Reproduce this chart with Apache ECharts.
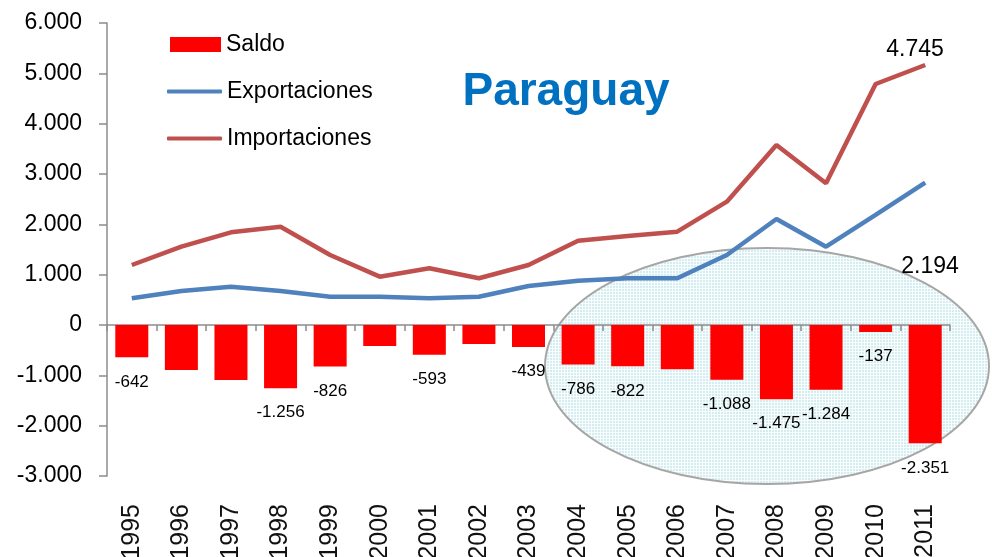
<!DOCTYPE html>
<html>
<head>
<meta charset="utf-8">
<script src="https://cdn.jsdelivr.net/npm/echarts@6/dist/echarts.min.js"></script>
<style>
    html, body { margin: 0; padding: 0; background: #fff; }
    #main { width: 992px; height: 557px; }
</style>
</head>
<body>
<div id="main"></div>
<script>
;(function () {
    var years = ['1995', '1996', '1997', '1998', '1999', '2000', '2001', '2002', '2003',
        '2004', '2005', '2006', '2007', '2008', '2009', '2010', '2011']
    var saldo = [-642, -895, -1093, -1256, -826, -418, -593, -378, -439,
        -786, -822, -881, -1088, -1475, -1284, -137, -2351]
    // solo algunas barras llevan etiqueta
    var saldoLabels = ['-642', '', '', '-1.256', '-826', '', '-593', '', '-439',
        '-786', '-822', '', '-1.088', '-1.475', '-1.284', '-137', '-2.351']
    var exportaciones = [530, 676, 761, 676, 562, 562, 530, 562, 775,
        880, 928, 928, 1391, 2106, 1556, 2186, 2828]
    var importaciones = [1192, 1556, 1842, 1953, 1391, 960, 1127, 928, 1192,
        1675, 1768, 1854, 2450, 3576, 2815, 4788, 5166]
    var endNotes = ['4.745', '2.194']

    var fontName = '"Liberation Sans", Arial, sans-serif'

    function miles(v) {
        var neg = v < 0
        var s = String(Math.abs(v)).replace(/\B(?=(\d{3})+(?!\d))/g, '.')
        return (neg ? '-' : '') + s
    }

    // trama del ovalo
    var tile = document.createElement('canvas')
    tile.width = 3
    tile.height = 3
    var ctx = tile.getContext('2d')
    ctx.fillStyle = '#d5edf0'
    ctx.fillRect(0, 0, 3, 3)
    ctx.fillStyle = 'rgba(255,255,255,0.8)'
    ctx.fillRect(0, 0, 3, 1)
    ctx.fillRect(0, 0, 1, 3)

    var chart = echarts.init(document.getElementById('main'))
    var option = {
        backgroundColor: '#fff',
        animation: false,
        textStyle: { fontFamily: fontName },
        grid: {
            left: 107, right: 42, top: 23, bottom: 81,
            containLabel: false,
            outerBoundsMode: 'none'
        },
        legend: [{
            data: ['Saldo'],
            orient: 'vertical',
            left: 170, top: 33,
            padding: 0,
            icon: 'rect',
            itemWidth: 51, itemHeight: 15,
            itemGap: 5,
            textStyle: { fontSize: 23, color: '#000', fontFamily: fontName }
        }, {
            data: ['Exportaciones', 'Importaciones'],
            orient: 'vertical',
            left: 167, top: 80,
            padding: 0,
            icon: 'roundRect',
            itemWidth: 55, itemHeight: 4,
            itemGap: 24,
            textStyle: { fontSize: 23, color: '#000', fontFamily: fontName }
        }],
        xAxis: [{
            type: 'category',
            data: years,
            boundaryGap: true,
            axisLine: { onZero: true, lineStyle: { color: '#8c8c8c', width: 1.5 } },
            axisTick: { show: true, length: 6, lineStyle: { color: '#8c8c8c', width: 1.5 } },
            axisLabel: { show: false }
        }, {
            type: 'category',
            data: years,
            position: 'bottom',
            axisLine: { show: false, onZero: false },
            axisTick: { show: false },
            axisLabel: {
                rotate: 90,
                margin: 28,
                fontSize: 25,
                color: '#111',
                fontFamily: fontName
            }
        }],
        yAxis: {
            type: 'value',
            min: -3000, max: 6000, interval: 1000,
            splitLine: { show: false },
            axisLine: { show: true, lineStyle: { color: '#8c8c8c', width: 1.5 } },
            axisTick: { show: true, length: 8, lineStyle: { color: '#8c8c8c', width: 1.5 } },
            axisLabel: {
                margin: 25,
                fontSize: 23,
                color: '#000',
                fontFamily: fontName,
                formatter: function (v) { return miles(v) }
            }
        },
        series: [{
            name: 'Saldo',
            type: 'bar',
            data: saldo,
            barWidth: 33,
            itemStyle: { color: '#ff0000' },
            label: {
                show: true,
                position: 'bottom',
                distance: 16,
                fontSize: 17,
                color: '#000',
                fontFamily: fontName,
                formatter: function (p) { return saldoLabels[p.dataIndex] }
            },
            z: 3
        }, {
            name: 'Exportaciones',
            type: 'line',
            data: exportaciones,
            symbol: 'none',
            lineStyle: { color: '#4f81bd', width: 4.5 },
            itemStyle: { color: '#4f81bd' },
            z: 4
        }, {
            name: 'Importaciones',
            type: 'line',
            data: importaciones,
            symbol: 'none',
            lineStyle: { color: '#c0504d', width: 4.5 },
            itemStyle: { color: '#c0504d' },
            z: 4
        }],
        graphic: [{
            type: 'ellipse',
            z: -1,
            shape: { cx: 767, cy: 366, rx: 222, ry: 118 },
            style: {
                fill: { image: tile, repeat: 'repeat' },
                stroke: '#a6a6a6',
                lineWidth: 2
            }
        }, {
            type: 'text',
            z: 10,
            x: 566, y: 92,
            style: {
                text: 'Paraguay',
                fill: '#0070c0',
                font: 'bold 46px ' + fontName,
                align: 'center',
                verticalAlign: 'middle'
            }
        }, {
            type: 'text',
            z: 10,
            x: 915, y: 50,
            style: {
                text: endNotes[0],
                fill: '#000',
                font: '23px ' + fontName,
                align: 'center',
                verticalAlign: 'middle'
            }
        }, {
            type: 'text',
            z: 10,
            x: 930, y: 267,
            style: {
                text: endNotes[1],
                fill: '#000',
                font: '23px ' + fontName,
                align: 'center',
                verticalAlign: 'middle'
            }
        }]
    }
    chart.setOption(option)
})();
</script>
</body>
</html>
